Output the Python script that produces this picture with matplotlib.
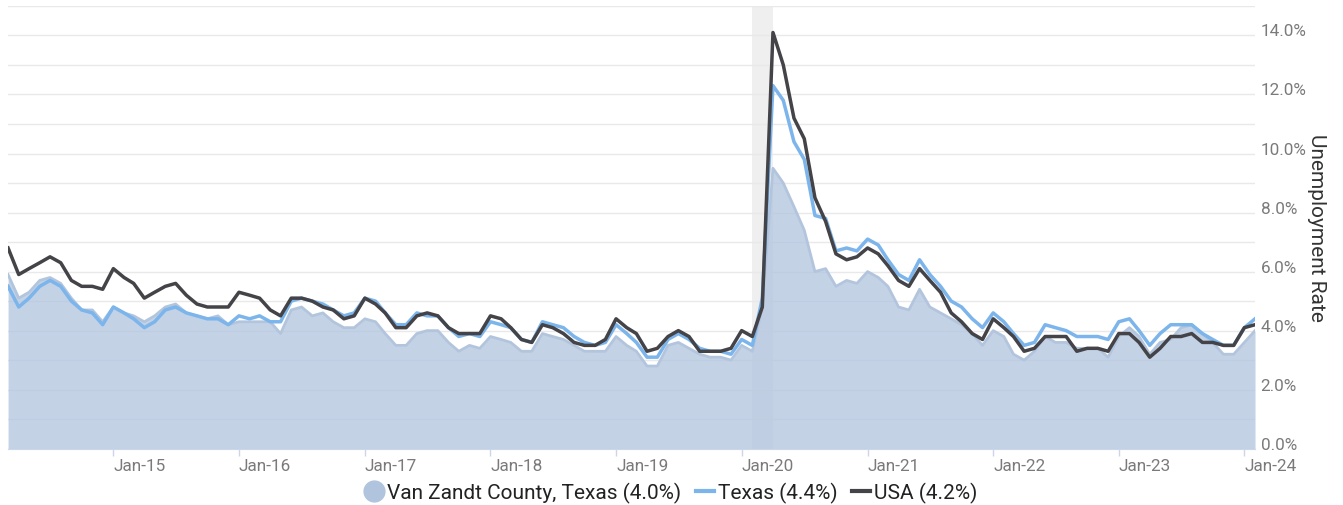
import matplotlib
matplotlib.use("Agg")
import matplotlib.pyplot as plt
import matplotlib.dates as mdates
from matplotlib.lines import Line2D
from matplotlib.ticker import FixedLocator, FuncFormatter
import pandas as pd

plt.rcParams['font.family'] = ['Roboto', 'DejaVu Sans']

# monthly data, Mar 2014 .. Feb 2024
months = pd.date_range('2014-03-01', periods=120, freq='MS')

county = [5.9, 5.1, 5.3, 5.7, 5.8, 5.6, 5.1, 4.7, 4.7, 4.3,
          4.8, 4.6, 4.5, 4.3, 4.5, 4.8, 4.9, 4.6, 4.5, 4.4, 4.5, 4.2,
          4.3, 4.3, 4.3, 4.3, 3.9, 4.7, 4.8, 4.5, 4.6, 4.3, 4.1, 4.1,
          4.4, 4.3, 3.9, 3.5, 3.5, 3.9, 4.0, 4.0, 3.6, 3.3, 3.5, 3.4,
          3.8, 3.7, 3.6, 3.3, 3.3, 3.9, 3.8, 3.7, 3.5, 3.3, 3.3, 3.3,
          3.8, 3.5, 3.3, 2.8, 2.8, 3.5, 3.6, 3.4, 3.2, 3.1, 3.1, 3.0,
          3.5, 3.3, 4.8, 9.5, 9.0, 8.2, 7.4, 6.0, 6.1, 5.5, 5.7, 5.6,
          6.0, 5.8, 5.5, 4.8, 4.7, 5.4, 4.8, 4.6, 4.4, 4.2, 3.9, 3.5,
          4.0, 3.8, 3.2, 3.0, 3.3, 3.8, 3.6, 3.6, 3.4, 3.4, 3.4, 3.1,
          3.8, 4.1, 3.8, 3.2, 3.6, 3.7, 4.1, 4.2, 3.9, 3.6, 3.2, 3.2,
          3.6, 4.0]

texas = [5.5, 4.8, 5.1, 5.5, 5.7, 5.5, 5.0, 4.7, 4.6, 4.2,
         4.8, 4.6, 4.4, 4.1, 4.3, 4.7, 4.8, 4.6, 4.5, 4.4, 4.4, 4.2,
         4.5, 4.4, 4.5, 4.3, 4.3, 5.0, 5.1, 5.0, 4.9, 4.7, 4.5, 4.6,
         5.1, 5.0, 4.6, 4.2, 4.2, 4.6, 4.5, 4.5, 4.1, 3.8, 3.9, 3.8,
         4.3, 4.2, 4.1, 3.7, 3.6, 4.3, 4.2, 4.1, 3.8, 3.6, 3.5, 3.6,
         4.2, 3.9, 3.6, 3.1, 3.1, 3.7, 3.9, 3.7, 3.4, 3.3, 3.3, 3.2,
         3.7, 3.5, 5.1, 12.3, 11.8, 10.4, 9.8, 7.9, 7.8, 6.7, 6.8, 6.7,
         7.1, 6.9, 6.4, 5.9, 5.7, 6.4, 5.9, 5.5, 5.0, 4.8, 4.4, 4.1,
         4.6, 4.3, 3.9, 3.5, 3.6, 4.2, 4.1, 4.0, 3.8, 3.8, 3.8, 3.7,
         4.3, 4.4, 4.0, 3.5, 3.9, 4.2, 4.2, 4.2, 3.9, 3.7, 3.5, 3.5,
         4.1, 4.4]

usa = [6.8, 5.9, 6.1, 6.3, 6.5, 6.3, 5.7, 5.5, 5.5, 5.4,
       6.1, 5.8, 5.6, 5.1, 5.3, 5.5, 5.6, 5.2, 4.9, 4.8, 4.8, 4.8,
       5.3, 5.2, 5.1, 4.7, 4.5, 5.1, 5.1, 5.0, 4.8, 4.7, 4.4, 4.5,
       5.1, 4.9, 4.6, 4.1, 4.1, 4.5, 4.6, 4.5, 4.1, 3.9, 3.9, 3.9,
       4.5, 4.4, 4.1, 3.7, 3.6, 4.2, 4.1, 3.9, 3.6, 3.5, 3.5, 3.7,
       4.4, 4.1, 3.9, 3.3, 3.4, 3.8, 4.0, 3.8, 3.3, 3.3, 3.3, 3.4,
       4.0, 3.8, 4.8, 14.1, 13.0, 11.2, 10.5, 8.5, 7.7, 6.6, 6.4, 6.5,
       6.8, 6.6, 6.2, 5.7, 5.5, 6.1, 5.7, 5.3, 4.6, 4.3, 3.9, 3.7,
       4.4, 4.1, 3.8, 3.3, 3.4, 3.8, 3.8, 3.8, 3.3, 3.4, 3.4, 3.3,
       3.9, 3.9, 3.6, 3.1, 3.4, 3.8, 3.8, 3.9, 3.6, 3.6, 3.5, 3.5,
       4.1, 4.2]

labels = ['Van Zandt County, Texas (4.0%)', 'Texas (4.4%)', 'USA (4.2%)']
recession = (pd.Timestamp('2020-02-01'), pd.Timestamp('2020-04-01'))

fig = plt.figure(figsize=(13.43, 5.06), dpi=100)
ax = fig.add_axes([0.006, 0.1113, 0.9285, 0.875])

ax.axvspan(recession[0], recession[1], color='#efefef', lw=0, zorder=0)
ax.fill_between(months, county, color='lightsteelblue', alpha=0.75, lw=0, zorder=2)
ax.plot(months, county, color='#b3c5dd', lw=2, zorder=3)
ax.plot(months, texas, color='#7cb5ec', lw=2.5, zorder=4)
ax.plot(months, usa, color='#434348', lw=2.5, zorder=5)

ax.set_xlim(months[0], months[-1])
ax.set_ylim(0, 15)

# y axis on the right, labels every 2%, grid every 1%
ax.yaxis.tick_right()
ax.set_yticks(range(0, 15, 2))
ax.yaxis.set_minor_locator(FixedLocator(range(1, 16, 2)))
ax.yaxis.set_major_formatter(FuncFormatter(lambda v, p: '%.1f%%' % v))
ax.tick_params(axis='y', which='both', length=0, pad=4, labelsize=12.3, labelcolor='#7a7a7a')
for t in ax.get_yticklabels():
    t.set_verticalalignment('baseline')
ax.grid(axis='y', which='both', color='#e9e9e9', lw=1)
ax.set_axisbelow(True)
ax.yaxis.set_label_position('right')
ax.set_ylabel('Unemployment Rate', rotation=270, fontsize=15, color='#333333', labelpad=14)

# x axis
ax.xaxis.set_major_locator(mdates.YearLocator(month=1, day=1))
ax.xaxis.set_major_formatter(mdates.DateFormatter('%b-%y'))
ax.tick_params(axis='x', length=5, width=1, color='#ccd6eb', pad=2, labelsize=12.3, labelcolor='#7a7a7a')
for t in ax.get_xticklabels():
    t.set_horizontalalignment('left')

for s in ['top', 'left', 'right']:
    ax.spines[s].set_visible(False)
ax.spines['bottom'].set_color('#ccd6eb')

handles = [Line2D([], [], marker='o', ls='', markersize=15, color='lightsteelblue'),
           Line2D([], [], color='#7cb5ec', lw=3),
           Line2D([], [], color='#434348', lw=3)]
fig.legend(handles, labels, loc='center', bbox_to_anchor=(0.5, 0.024), ncol=3,
           frameon=False, fontsize=15, handlelength=0.85, handletextpad=0.2,
           columnspacing=0.7, labelcolor='#222222')

fig.savefig('out.png', dpi=100)
